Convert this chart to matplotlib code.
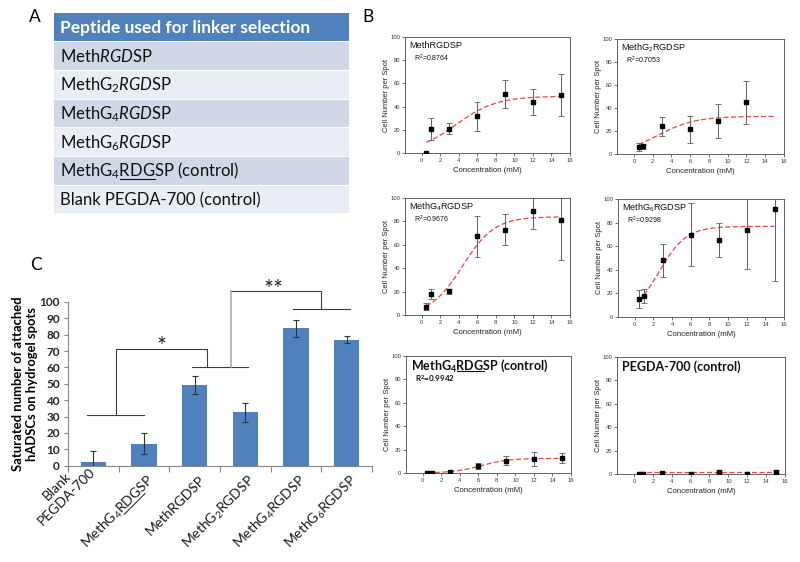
import matplotlib.pyplot as plt
import numpy as np
from matplotlib.lines import Line2D
from matplotlib.transforms import Affine2D, ScaledTranslation, blended_transform_factory

plt.rcParams["font.family"] = ["Lato", "DejaVu Sans"]
plt.rcParams["mathtext.fontset"] = "custom"
plt.rcParams["mathtext.rm"] = "Lato"
plt.rcParams["mathtext.it"] = "Lato:italic"
plt.rcParams["mathtext.bf"] = "Lato:bold"
plt.rcParams["mathtext.default"] = "regular"

LARGURA, ALTURA = 800, 562

## Painel A - tabela de peptideos
cabecalho_tabela = "Peptide used for linker selection"
linhas_tabela = [
    "Meth$\\mathit{RGD}$SP",
    "MethG$_2\\mathit{RGD}$SP",
    "MethG$_4\\mathit{RGD}$SP",
    "MethG$_6\\mathit{RGD}$SP",
    "MethG$_4$RDGSP (control)",
    "Blank PEGDA-700 (control)",
]

## Painel B - curvas de adesao
concentracao = [0.5, 1, 3, 6, 9, 12, 15]
titulos_b = [
    "MethRGDSP",
    "MethG$_2$RGDSP",
    "MethG$_4$RGDSP",
    "MethG$_6$RGDSP",
    "MethG$_4$RDGSP (control)",
    "PEGDA-700 (control)",
]
r2_b = ["0.8764", "0.7053", "0.9676", "0.9298", "0.9942", None]
media_b = [
    [0, 21, 21, 31.5, 51, 44, 50],
    [6, 6.6, 24, 21.6, 28.8, 45, np.nan],
    [7.2, 18.1, 20.1, 67.5, 73, 89, 81.6],
    [15.5, 18, 48.2, 69.9, 65.6, 73.5, 91.5],
    [0, 0, 1.1, 6, 10.5, 12.3, 12.8],
    [0, 0, 1, 0, 2, 0, 2],
]
erro_b = [
    [0, 9.5, 5, 12.4, 12, 11.5, 17.7],
    [3.5, 2.5, 8, 11.8, 15, 18.5, np.nan],
    [3.2, 4.2, 2, 17.5, 13.5, 15.7, 35],
    [7.5, 6, 14, 26.5, 14.4, 32.4, 61.4],
    [0, 0, 1, 2.5, 4, 6, 4.2],
    [0, 0, 0, 0, 1.5, 0, 1],
]
# ajuste sigmoidal: (maximo, x0, b, inicio da curva)
ajuste_b = [
    (49, 3.71, 2.19, 0.5),
    (32.7, 2.59, 1.99, 0.5),
    (84, 4.42, 1.72, 0.5),
    (76.8, 2.61, 1.45, 1.0),
    (12.5, 6.3, 1.5, 0.5),
    (1.3, -10, 1, 0.5),
]

## Painel C - barras
rotulos_c = [
    "Blank\nPEGDA-700",
    "MethG$_4$RDGSP",
    "MethRGDSP",
    "MethG$_2$RGDSP",
    "MethG$_4$RGDSP",
    "MethG$_6$RGDSP",
]
valores_c = [2.5, 13.5, 49.5, 32.5, 84, 77]
erros_c = [6.7, 6.4, 5.5, 5.6, 5.2, 2.1]
# colchetes de significancia (x, y em unidades dos dados)
colchetes_c = [
    ([-0.12, 1.0], [31, 31]),
    ([0.45, 0.45, 2.24, 2.24], [31, 71, 71, 60]),
    ([1.95, 3.06], [60, 60]),
    ([4.49, 4.49, 2.72], [95.5, 106.5, 106.5]),
    ([3.95, 5.07], [95.5, 95.5]),
]
estrelas_c = [("*", 1.34, 73), ("**", 3.55, 107.5)]

AZUL = "#4F81BD"

fig = plt.figure(figsize=(8, 5.62), dpi=100)


def eixo(esq, topo, dir, base):
    return fig.add_axes(
        [esq / LARGURA, 1 - base / ALTURA, (dir - esq) / LARGURA, (base - topo) / ALTURA]
    )


def sublinhar(texto, prefixo, trecho, espessura=0.7):
    fig.canvas.draw()
    renderer = fig.canvas.get_renderer()
    prop = texto.get_fontproperties()

    def largura(s):
        return renderer.get_text_width_height_descent(s, prop, ismath="$" in s)[0]

    w_total = largura(texto.get_text())
    w_pref = largura(prefixo)
    w_trecho = largura(trecho)
    if texto.get_horizontalalignment() == "right":
        x0 = -(w_total - w_pref)
    else:
        x0 = w_pref
    desce = 0.13 * prop.get_size_in_points() * fig.dpi / 72
    ancora = texto.get_transform().transform(texto.get_position())
    rot = Affine2D().rotate_deg(texto.get_rotation()).translate(*ancora)
    pts = rot.transform([[x0, -desce], [x0 + w_trecho, -desce]])
    pts = fig.transFigure.inverted().transform(pts)
    fig.add_artist(Line2D(pts[:, 0], pts[:, 1], color=texto.get_color(), lw=espessura))


## Letras dos paineis
for letra, px, py in (("A", 35, 17), ("B", 368, 17), ("C", 36, 265)):
    fig.text(px / LARGURA, 1 - py / ALTURA, letra, ha="center", va="center", fontsize=12.5)

## Painel A
ax_a = eixo(54, 12.7, 349, 213.3)
ax_a.set_xlim(0, 1)
ax_a.set_ylim(len(linhas_tabela) + 1, 0)
ax_a.axis("off")
ax_a.axhspan(0, 1, color=AZUL, lw=0)
ax_a.text(0.02, 0.5 + 0.22, cabecalho_tabela, color="white", fontweight="bold",
          va="baseline", fontsize=12.5)
texto_controle = None
for i, linha in enumerate(linhas_tabela):
    cor = "#D0D8E8" if i % 2 == 0 else "#E9EDF4"
    ax_a.axhspan(i + 1, i + 2, color=cor, lw=0)
    t = ax_a.text(0.02, i + 1.5 + 0.22, linha, va="baseline", fontsize=12, color="#111111")
    if "RDG" in linha:
        texto_controle = t
for i in range(1, len(linhas_tabela) + 1):
    ax_a.axhline(i, color="white", lw=0.8)

## Painel B
pos_b = [
    (405, 37, 570, 153),
    (617, 39, 784, 154),
    (405, 198, 570, 315),
    (618, 199, 784, 317),
    (406, 356, 571, 473),
    (617, 357, 785, 474),
]
fonte_b = ["Liberation Sans", "DejaVu Sans"]
titulo_controle = None
for k in range(6):
    ax = eixo(*pos_b[k])
    y = np.array(media_b[k], dtype=float)
    e = np.array(erro_b[k], dtype=float)
    x = np.array(concentracao, dtype=float)
    ok = ~np.isnan(y)
    com_erro = ok & (e > 0)

    a, x0, b, inicio = ajuste_b[k]
    xc = np.linspace(inicio, 15, 120)
    ax.plot(xc, a / (1 + np.exp(-(xc - x0) / b)), color="#E8453C", lw=0.9,
            dashes=(4, 2), zorder=2)
    ax.errorbar(x[com_erro], y[com_erro], yerr=e[com_erro], fmt="none",
                ecolor="#5E5E5E", elinewidth=0.7, capsize=2, capthick=0.6, zorder=3)
    ax.plot(x[ok], y[ok], "s", color="black", ms=2.8, zorder=4)

    ax.set_xlim(-1.8, 16)
    ax.set_ylim(0, 100)
    ax.set_xticks(range(0, 17, 2))
    ax.set_yticks(range(0, 101, 20))
    ax.tick_params(direction="out", length=2, width=0.5, labelsize=4.2, pad=1.5,
                   colors="#3A3A3A")
    for lab in ax.get_xticklabels() + ax.get_yticklabels():
        lab.set_family(fonte_b)
    for sp in ax.spines.values():
        sp.set_linewidth(0.6)
        sp.set_color("#4A4A4A")
    ax.set_xlabel("Concentration (mM)", fontsize=5.6, family=fonte_b, labelpad=3,
                  color="#222222")
    ax.set_ylabel("Cell Number per Spot", fontsize=5.4, family=fonte_b, labelpad=0.5,
                  color="#222222")

    if k < 4:
        ax.text(0.025, 0.925, titulos_b[k], transform=ax.transAxes, va="center",
                fontsize=6.6, family=fonte_b, color="#111111")
        ax.text(0.055, 0.815, "R$^2$=" + r2_b[k], transform=ax.transAxes, va="center",
                fontsize=5, family=fonte_b, color="#111111")
    else:
        t = ax.text(0.03, 0.885, titulos_b[k], transform=ax.transAxes, va="baseline",
                    fontsize=9, fontweight="bold", color="#111111")
        if "RDG" in titulos_b[k]:
            titulo_controle = t
        if r2_b[k] is not None:
            ax.text(0.055, 0.81, "R$^2$=" + r2_b[k], transform=ax.transAxes, va="center",
                    fontsize=5.8, fontweight="bold", color="#111111")

## Painel C
ax_c = eixo(68, 302, 372, 465.7)
pos_c = np.arange(len(valores_c))
ax_c.bar(pos_c, valores_c, width=0.5, color=AZUL, zorder=2)
ax_c.errorbar(pos_c, valores_c, yerr=erros_c, fmt="none", ecolor="#333333",
              elinewidth=0.8, capsize=2.5, capthick=0.8, zorder=3)
ax_c.set_xlim(-0.5, len(valores_c) - 0.5)
ax_c.set_ylim(0, 100)
ax_c.set_yticks(range(0, 101, 10))
ax_c.set_xticks(np.arange(-0.5, len(valores_c), 1))
ax_c.set_xticklabels([])
ax_c.tick_params(axis="y", direction="out", length=3, width=0.8, color="#878787",
                 labelsize=8.5, pad=3, labelcolor="#262626")
ax_c.tick_params(axis="x", direction="out", length=4, width=0.8, color="#878787")
for lab in ax_c.get_yticklabels():
    lab.set_fontweight("bold")
for lado in ("top", "right"):
    ax_c.spines[lado].set_visible(False)
for lado in ("left", "bottom"):
    ax_c.spines[lado].set_color("#878787")
    ax_c.spines[lado].set_linewidth(0.8)

fig.text(25.5 / LARGURA, 1 - 384 / ALTURA,
         "Saturated number of attached\nhADSCs on hydrogel spots",
         rotation=90, ha="center", va="center", multialignment="center",
         fontsize=9.4, fontweight="bold", linespacing=1.2)

for xs, ys in colchetes_c:
    ax_c.plot(xs, ys, color="#3C3C3C", lw=0.8, clip_on=False, zorder=1)
ax_c.plot([2.72, 2.72], [60, 106.5], color="#A6A6A6", lw=1.1, clip_on=False, zorder=1)
for s, xs, ys in estrelas_c:
    ax_c.text(xs, ys, s, ha="center", va="center", fontsize=17, color="#222222")

base_c = blended_transform_factory(ax_c.transData, ax_c.transAxes)
rotulo_controle = None
for i, rot in enumerate(rotulos_c):
    n = rot.count("\n")
    dx = 8 - 0.707 * 10 * n
    dy = -11 + 0.707 * 10 * n
    tr = base_c + ScaledTranslation(dx / 72, dy / 72, fig.dpi_scale_trans)
    t = ax_c.text(i, 0, rot, transform=tr, rotation=45, rotation_mode="anchor",
                  ha="right", va="baseline", multialignment="center", fontsize=10,
                  color="#1A1A1A")
    if "RDG" in rot:
        rotulo_controle = t

sublinhar(texto_controle, "MethG$_4$", "RDG", 0.8)
sublinhar(titulo_controle, "MethG$_4$", "RDG", 0.8)
sublinhar(rotulo_controle, "MethG$_4$", "RDG", 0.7)

fig.savefig("out.png", dpi=100)
